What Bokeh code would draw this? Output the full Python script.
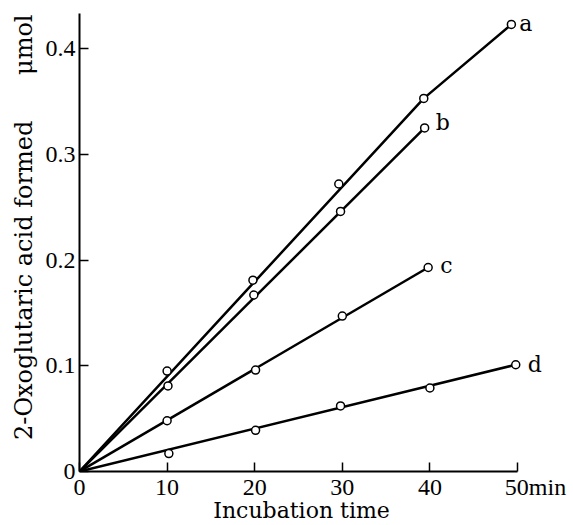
import math
from bokeh.plotting import figure
from bokeh.models import Range1d, FixedTicker, Label, LinearAxis
from bokeh.embed import file_html
from bokeh.resources import INLINE

# ---- data ----
series_names = ["a", "b", "c", "d"]

time_a = [10.0, 19.8, 29.6, 39.3, 49.3]
conc_a = [0.095, 0.181, 0.272, 0.353, 0.423]
time_b = [10.1, 19.9, 29.8, 39.4]
conc_b = [0.081, 0.167, 0.246, 0.325]
time_c = [10.0, 20.1, 30.0, 39.8]
conc_c = [0.048, 0.096, 0.147, 0.193]
time_d = [10.2, 20.1, 29.8, 40.0, 49.8]
conc_d = [0.017, 0.039, 0.062, 0.079, 0.101]

# drawn (fitted) lines: vertices
fit_a_x = [0, 39.3, 49.3]
fit_a_y = [0, 0.353, 0.423]
fit_b_x = [0, 39.4]
fit_b_y = [0, 0.325]
fit_c_x = [0, 39.8]
fit_c_y = [0, 0.193]
fit_d_x = [0, 49.8]
fit_d_y = [0, 0.101]

x_ticks = [0, 10, 20, 30, 40, 50]
x_tick_labels = {0: "0", 10: "10", 20: "20", 30: "30", 40: "40",
                 50: "\u00a0" * 6 + "50min"}
y_ticks = [0, 0.1, 0.2, 0.3, 0.4]
y_tick_labels = {0: "0", 0.1: "0.1", 0.2: "0.2", 0.3: "0.3", 0.4: "0.4"}

x_title = "Incubation time"
y_title = "2-Oxoglutaric acid formed"
y_unit = "\u03bcmol"

TICK_FONT = "Liberation Serif"
TITLE_FONT = "DejaVu Serif"
NBSP = "\u00a0"

p = figure(width=573, height=525,
           x_range=Range1d(0, 55.48), y_range=Range1d(0, 0.4333),
           min_border_left=79, min_border_right=8,
           min_border_top=13, min_border_bottom=54,
           output_backend="svg", toolbar_location=None)
p.outline_line_color = None
p.xgrid.visible = False
p.ygrid.visible = False
p.background_fill_color = "white"
p.border_fill_color = "white"

for ax in (p.xaxis[0], p.yaxis[0]):
    ax.axis_line_width = 2
    ax.axis_line_color = "black"
    ax.major_tick_in = 9
    ax.major_tick_out = 0
    ax.major_tick_line_width = 1.5
    ax.major_tick_line_color = "black"
    ax.minor_tick_line_color = None
    ax.major_label_text_font = TICK_FONT
    ax.major_label_text_font_size = "24px"
    ax.major_label_text_color = "black"

p.xaxis.major_label_standoff = 2
p.yaxis.major_label_standoff = 4
p.xaxis.ticker = FixedTicker(ticks=x_ticks)
p.yaxis.ticker = FixedTicker(ticks=y_ticks)
p.xaxis.major_label_overrides = x_tick_labels
p.yaxis.major_label_overrides = y_tick_labels
p.xaxis.bounds = (0, 50)
p.yaxis.bounds = (0, 0.4333)

# x title, padded on the right so that it sits centred under the 0-50 axis
p.xaxis.axis_label = x_title + NBSP * 6
p.xaxis.axis_label_text_font = TITLE_FONT
p.xaxis.axis_label_text_font_size = "22px"
p.xaxis.axis_label_text_font_style = "normal"
p.xaxis.axis_label_text_color = "black"
p.xaxis.axis_label_standoff = -5

# y title (with unit) on a bare extra axis
ytitle_axis = LinearAxis(ticker=FixedTicker(ticks=[]),
                         axis_line_color=None, major_tick_line_color=None,
                         minor_tick_line_color=None, major_tick_in=0, major_tick_out=0,
                         major_label_standoff=0,
                         axis_label=NBSP * 4 + y_title + NBSP * 6 + y_unit,
                         axis_label_text_font=TITLE_FONT,
                         axis_label_text_font_size="24px",
                         axis_label_text_font_style="normal",
                         axis_label_text_color="black",
                         axis_label_standoff=5)
p.add_layout(ytitle_axis, "left")

fits = [(fit_a_x, fit_a_y), (fit_b_x, fit_b_y), (fit_c_x, fit_c_y), (fit_d_x, fit_d_y)]
pts = [(time_a, conc_a), (time_b, conc_b), (time_c, conc_c), (time_d, conc_d)]
label_offsets = [(8, 1), (11, 5), (12, 2), (12, 0)]

for (fx, fy), (px, py), name, (ox, oy) in zip(fits, pts, series_names, label_offsets):
    p.line(fx, fy, line_color="black", line_width=2.5)
    p.scatter(px, py, marker="circle", size=8, fill_color="white",
              line_color="black", line_width=1.5)
    p.add_layout(Label(x=px[-1], y=py[-1], text=name, x_offset=ox, y_offset=oy,
                       text_align="left", text_baseline="middle",
                       text_font=TITLE_FONT, text_font_size="22px",
                       text_color="black"))

open("out.html", "w").write(file_html(p, INLINE))
